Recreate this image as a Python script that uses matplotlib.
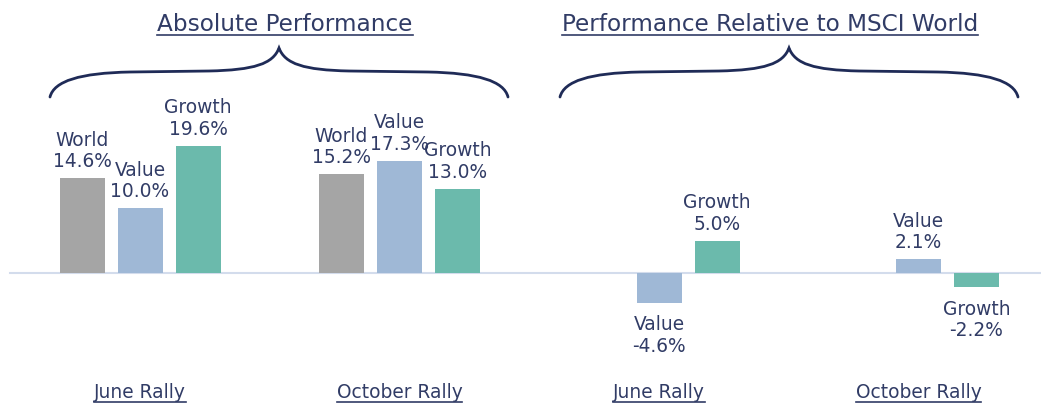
import matplotlib
matplotlib.use("Agg")
import matplotlib.pyplot as plt
import numpy as np
from matplotlib.path import Path
from matplotlib.patches import PathPatch
from matplotlib.lines import Line2D
from matplotlib.transforms import blended_transform_factory

# ---- data ----
categories = ["June Rally", "October Rally", "June Rally", "October Rally"]
series_names = ["World", "Value", "Growth"]
world = [14.6, 15.2, None, None]
value = [10.0, 17.3, -4.6, 2.1]
growth = [19.6, 13.0, 5.0, -2.2]
section_titles = ["Absolute Performance", "Performance Relative to MSCI World"]

colors = {"World": "#a5a5a5", "Value": "#9fb8d6", "Growth": "#6bbaac"}
text_color = "#313c66"
brace_color = "#1f2b57"
FONT = "DejaVu Sans"
LBL = 13.4

W, H = 1041, 403
fig = plt.figure(figsize=(W / 100, H / 100), dpi=100)
ax = fig.add_axes([0, 0, 1, 1])
ax.set_axis_off()

# pixel mapping: value-bar centre of group i at 140 + 259.5*i px; zero at 130 px from bottom, 6.5 px / %
ax.set_xlim((0 - 140) / 259.5, (W - 140) / 259.5)
ax.set_ylim(-130 / 6.5, (H - 130) / 6.5)

offset = 58 / 259.5
width = 45 / 259.5
x = np.arange(len(categories))

for k, (name, vals) in enumerate(zip(series_names, [world, value, growth])):
    for i, v in enumerate(vals):
        if v is None:
            continue
        xp = x[i] + (k - 1) * offset
        ax.bar(xp, v, width=width, color=colors[name], zorder=2)
        lbl = f"{name}\n{v:.1f}%"
        if v >= 0:
            ax.annotate(lbl, (xp, v), xytext=(0, 5), textcoords="offset points",
                        ha="center", va="bottom", fontsize=LBL, color=text_color,
                        family=FONT, linespacing=1.15)
        else:
            ax.annotate(lbl, (xp, v), xytext=(0, -9), textcoords="offset points",
                        ha="center", va="top", fontsize=LBL, color=text_color,
                        family=FONT, linespacing=1.15)

# zero line
ax.plot([ax.get_xlim()[0] + 10 / 259.5, ax.get_xlim()[1]], [0, 0], color="#d3dcec",
        lw=1.5, zorder=1)

# category labels
trans = blended_transform_factory(ax.transData, fig.transFigure)
cat_texts = []
for i, c in enumerate(categories):
    t = ax.text(x[i], (H - 398) / H, c, transform=trans, ha="center", va="baseline",
                fontsize=LBL, color=text_color, family=FONT)
    cat_texts.append(t)

# section titles
title_texts = []
for cx, s in zip([285, 770], section_titles):
    t = fig.text(cx / W, (H - 31) / H, s, ha="center", va="baseline",
                 fontsize=16.7, color=text_color, family=FONT)
    title_texts.append(t)

# underlines
fig.canvas.draw()
r = fig.canvas.get_renderer()
for t, off in [(tt, 4) for tt in title_texts] + [(tt, 3.5) for tt in cat_texts]:
    bb = t.get_window_extent(r)
    base = t.get_transform().transform(t.get_position())[1]
    fig.add_artist(Line2D([bb.x0, bb.x1], [base - off, base - off], transform=None,
                          color=text_color, lw=1.2))


def brace_path(x0, x1, ytip=48, yend=97, ymid=72):
    xm = (x0 + x1) / 2
    verts = [
        (x0, yend),
        (x0 + 4, ymid + 9), (x0 + 30, ymid + 1), (x0 + 80, ymid),
        (xm - 70, ymid - 1),
        (xm - 25, ymid - 2), (xm - 6, ymid - 8), (xm, ytip),
        (xm + 6, ymid - 8), (xm + 25, ymid - 2), (xm + 70, ymid - 1),
        (x1 - 80, ymid),
        (x1 - 30, ymid + 1), (x1 - 4, ymid + 9), (x1, yend),
    ]
    codes = [Path.MOVETO,
             Path.CURVE4, Path.CURVE4, Path.CURVE4,
             Path.LINETO,
             Path.CURVE4, Path.CURVE4, Path.CURVE4,
             Path.CURVE4, Path.CURVE4, Path.CURVE4,
             Path.LINETO,
             Path.CURVE4, Path.CURVE4, Path.CURVE4]
    return Path([(vx, H - vy) for vx, vy in verts], codes)


for x0, x1 in [(50, 508), (560, 1018)]:
    fig.add_artist(PathPatch(brace_path(x0, x1), facecolor="none", edgecolor=brace_color,
                             lw=2.0, transform=None, capstyle="round"))

fig.savefig("out.png", dpi=100)
